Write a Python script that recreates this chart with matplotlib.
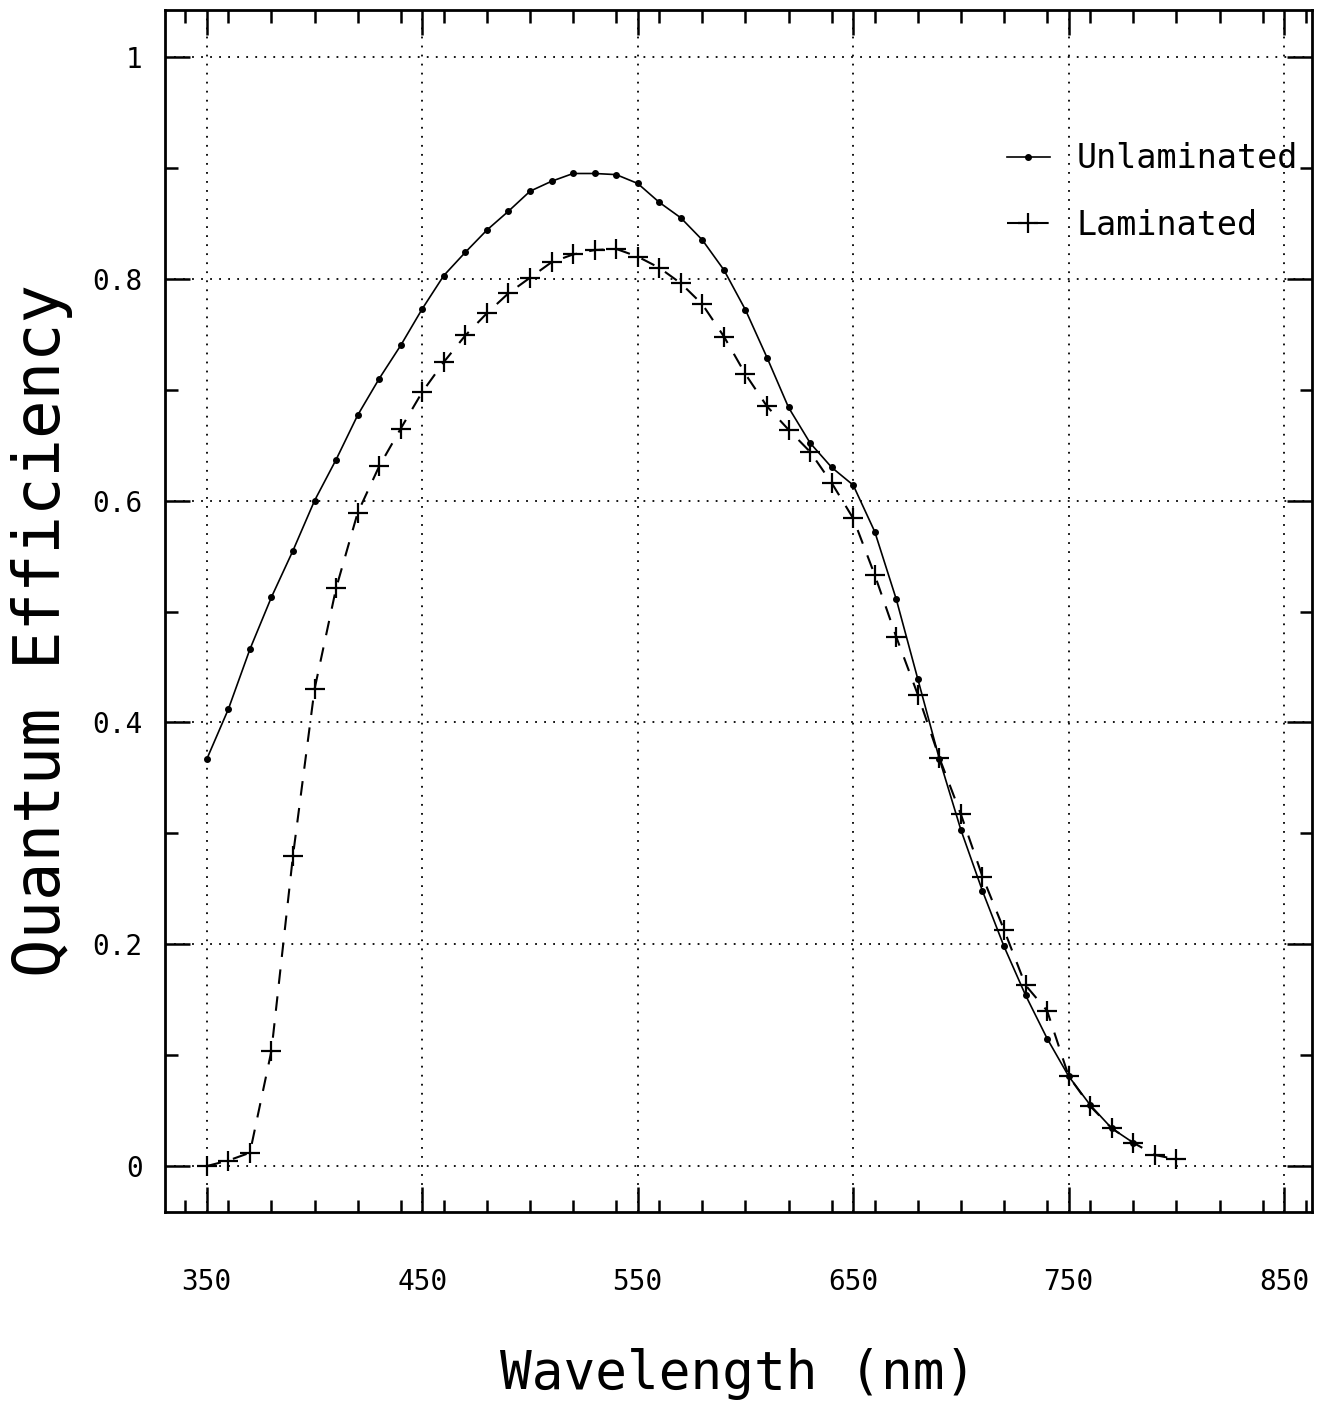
import matplotlib
matplotlib.use("Agg")
import matplotlib.pyplot as plt
from matplotlib.ticker import MultipleLocator, FuncFormatter

plt.rcParams['font.family'] = ['DejaVu Sans Mono']

# data (nm, quantum efficiency)
wl_unlam = list(range(350, 790, 10))
qe_unlam = [0.367, 0.412, 0.466, 0.513, 0.555, 0.600, 0.637, 0.677, 0.710, 0.740,
            0.773, 0.803, 0.824, 0.844, 0.861, 0.879, 0.888, 0.895, 0.895, 0.894,
            0.886, 0.869, 0.855, 0.835, 0.808, 0.772, 0.729, 0.684, 0.652, 0.630,
            0.614, 0.572, 0.511, 0.439, 0.367, 0.303, 0.248, 0.198, 0.154, 0.115,
            0.081, 0.055, 0.034, 0.021]

wl_lam = list(range(350, 810, 10))
qe_lam = [0.000, 0.005, 0.012, 0.104, 0.280, 0.430, 0.521, 0.589, 0.631, 0.665,
          0.698, 0.725, 0.749, 0.769, 0.787, 0.801, 0.815, 0.822, 0.826, 0.827,
          0.820, 0.810, 0.796, 0.777, 0.748, 0.714, 0.685, 0.664, 0.644, 0.616,
          0.584, 0.533, 0.477, 0.425, 0.368, 0.317, 0.261, 0.213, 0.163, 0.140,
          0.081, 0.054, 0.034, 0.021, 0.010, 0.006]

x_ticks = [350, 450, 550, 650, 750, 850]
y_ticks = [0, 0.2, 0.4, 0.6, 0.8, 1.0]

fig = plt.figure(figsize=(13.29, 14.13), dpi=100)
ax = fig.add_axes([0.124, 0.1422, 0.863, 0.8507])

ax.plot(wl_unlam, qe_unlam, color='black', lw=1.2, marker='o', ms=4,
        label='Unlaminated')
ax.plot(wl_lam, qe_lam, color='black', lw=1.5, dashes=(7, 6), marker='+',
        ms=14, mew=1.6, label='Laminated')

ax.set_xlim(330.5, 862.8)
ax.set_ylim(-0.0415, 1.0424)
ax.set_xticks(x_ticks)
ax.set_yticks(y_ticks)
ax.xaxis.set_minor_locator(MultipleLocator(20))
ax.yaxis.set_minor_locator(MultipleLocator(0.1))
ax.yaxis.set_major_formatter(FuncFormatter(lambda v, p: f"{v:g}"))

ax.tick_params(which='both', direction='in', top=True, right=True, width=1.8)
ax.tick_params(which='major', length=18)
ax.tick_params(which='minor', length=9)
ax.tick_params(axis='x', which='major', labelsize=20, pad=40)
ax.tick_params(axis='y', which='major', labelsize=20, pad=16)

ax.grid(True, which='major', color='black', linestyle=(0, (1, 4)), lw=1.3)
for s in ax.spines.values():
    s.set_linewidth(2)

ax.set_xlabel('Wavelength (nm)', fontsize=38, labelpad=38)
ax.set_ylabel('Quantum Efficiency', fontsize=46)
ax.yaxis.label.set_va('center')
ax.yaxis.set_label_coords(-0.107, 0.484)

ax.legend(loc='upper left', bbox_to_anchor=(0.708, 0.915), frameon=False,
          fontsize=24, handlelength=1.3, handletextpad=0.8, labelspacing=1.0,
          numpoints=1)

fig.savefig('out.png', dpi=100)
